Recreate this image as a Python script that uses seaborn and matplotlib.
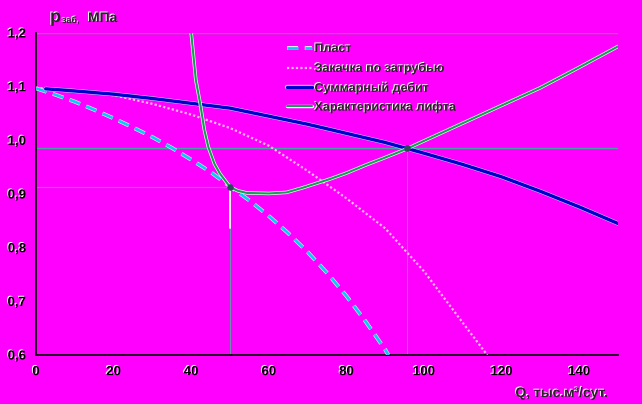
import matplotlib
matplotlib.use('Agg')
import matplotlib.pyplot as plt
import matplotlib.patheffects as pe
import seaborn as sns
import pandas as pd

# ---- data ----
q_plast = [0, 5, 10, 15, 20, 25, 30, 35, 40, 45, 50, 55, 60, 65, 70, 75, 80, 85, 90, 90.8]
p_plast = [1.097, 1.085, 1.072, 1.057, 1.041, 1.024, 1.006, 0.986, 0.964, 0.941, 0.914,
           0.888, 0.859, 0.827, 0.792, 0.753, 0.710, 0.662, 0.610, 0.600]

q_zak = [0, 10, 20, 30, 40, 50, 60, 70, 80, 90, 100, 110, 116.3]
p_zak = [1.098, 1.093, 1.084, 1.068, 1.048, 1.023, 0.990, 0.943, 0.892, 0.836, 0.756, 0.660, 0.600]

q_sum = [2.5, 10, 20, 30, 40, 50, 60, 70, 80, 90, 100, 110, 120, 130, 140, 150]
p_sum = [1.096, 1.092, 1.086, 1.078, 1.069, 1.060, 1.045, 1.030, 1.013, 0.996, 0.976,
         0.955, 0.932, 0.905, 0.876, 0.845]

q_lift = [40.0, 41.2, 42.3, 43.4, 44.4, 46.0, 47.4, 50.0, 52.0, 54.3, 60.0, 64.6, 68.9,
          75.8, 80, 85, 90, 95.5, 100, 110, 120, 130, 140, 150]
p_lift = [1.200, 1.112, 1.069, 1.019, 0.988, 0.956, 0.938, 0.913, 0.906, 0.902, 0.901,
          0.903, 0.912, 0.928, 0.939, 0.954, 0.968, 0.984, 0.999, 1.032, 1.065, 1.098,
          1.136, 1.175]

labels = ["Пласт", "Закачка по затрубью", "Суммарный дебит", "Характеристика лифта"]

# operating points
q_op = [50.0, 95.6]
p_op = [0.913, 0.985]

x_ticks = [0, 20, 40, 60, 80, 100, 120, 140]
x_ticklabels = ["0", "20", "40", "60", "80", "100", "120", "140"]
y_ticks = [0.6, 0.7, 0.8, 0.9, 1.0, 1.1, 1.2]
y_ticklabels = ["0,6", "0,7", "0,8", "0,9", "1,0", "1,1", "1,2"]

# ---- drawing ----
sns.set_style('white')
plt.rcParams['font.family'] = ['Liberation Sans', 'DejaVu Sans']

MAG = '#ff00ff'
W, H = 642, 404
fig = plt.figure(figsize=(W / 100, H / 100), dpi=100, facecolor=MAG)
ax = fig.add_axes([36 / W, 1 - 355 / H, (618 - 36) / W, (355 - 33) / H])
ax.set_facecolor(MAG)

shadow = [pe.withSimplePatchShadow(offset=(-0.7, 0.7), shadow_rgbFace='white', alpha=1.0)]

# guide lines
ax.plot([0, 150], [1.2, 1.2], color='#5aa060', lw=1.0, zorder=1)
ax.plot([0, 150], [p_op[1], p_op[1]], color='#3fa5a0', lw=1.0, zorder=1)
ax.plot([0, q_op[0]], [p_op[0], p_op[0]], color='#3fa5a0', lw=0.8, zorder=1)
ax.plot([q_op[0], q_op[0]], [0.6, p_op[0]], color='#6a90b0', lw=0.8, zorder=1)
ax.plot([q_op[1], q_op[1]], [0.6, p_op[1]], color='#6a90b0', lw=0.8, zorder=1)
ax.plot([q_op[0], q_op[0]], [0.837, p_op[0]], color='white', lw=1.3, zorder=2)

df_plast = pd.DataFrame({'Q': q_plast, 'p': p_plast})
df_zak = pd.DataFrame({'Q': q_zak, 'p': p_zak})
df_sum = pd.DataFrame({'Q': q_sum, 'p': p_sum})
df_lift = pd.DataFrame({'Q': q_lift, 'p': p_lift})

sns.lineplot(data=df_plast, x='Q', y='p', ax=ax, color='#10c8f0', lw=2.0, sort=False,
             linestyle=(0, (4, 2.4)), label=labels[0], zorder=4,
             path_effects=[pe.Stroke(linewidth=2.8, foreground='#e0f8ff'), pe.Normal()])
sns.lineplot(data=df_zak, x='Q', y='p', ax=ax, color='#ffb8f4', lw=1.6, sort=False,
             linestyle=(0, (1, 1)), label=labels[1], zorder=3)
sns.lineplot(data=df_sum, x='Q', y='p', ax=ax, color='#0000c8', lw=2.4, sort=False,
             label=labels[2], zorder=4,
             path_effects=[pe.Stroke(linewidth=3.1, foreground='#c8d8ff'), pe.Normal()])
sns.lineplot(data=df_lift, x='Q', y='p', ax=ax, color='#14a050', lw=1.5, sort=False,
             label=labels[3], zorder=5,
             path_effects=[pe.Stroke(linewidth=2.5, foreground='#e8fff0'), pe.Normal()])

ax.scatter(q_op, p_op, s=14, color='#2a4a5a', zorder=6)

ax.set_xlim(0, 150)
ax.set_ylim(0.6, 1.2)
ax.set_xticks(x_ticks)
ax.set_xticklabels(x_ticklabels)
ax.set_yticks(y_ticks)
ax.set_yticklabels(y_ticklabels)
ax.set_xlabel('')
ax.set_ylabel('')
ax.tick_params(direction='in', length=4, width=1, colors='black', labelsize=9.5)
ax.tick_params(axis='x', pad=8)
ax.tick_params(axis='y', pad=7.2)
for t in ax.get_xticklabels() + ax.get_yticklabels():
    t.set_fontweight('bold')
    t.set_path_effects(shadow)

for s in ['top', 'right']:
    ax.spines[s].set_visible(False)
for s in ['left', 'bottom']:
    ax.spines[s].set_color('black')
    ax.spines[s].set_linewidth(1.2)

leg = ax.legend(loc='upper left', bbox_to_anchor=(287 / W, 1 - 43 / H),
                bbox_transform=fig.transFigure, frameon=False,
                prop={'size': 9, 'weight': 'bold'}, handlelength=2.0,
                handletextpad=0.2, labelspacing=0.55, borderpad=0, borderaxespad=0)
for t in leg.get_texts():
    t.set_path_effects(shadow)

# axis titles
fig.text(50 / W, 1 - 22 / H, 'p', fontsize=13, fontweight='bold', va='baseline',
         ha='left', path_effects=shadow)
fig.text(62 / W, 1 - 23 / H, 'заб,', fontsize=6.5, fontweight='bold', va='baseline',
         ha='left', path_effects=shadow)
fig.text(88 / W, 1 - 22 / H, 'МПа', fontsize=10, fontweight='bold', va='baseline',
         ha='left', path_effects=shadow)
fig.text(608 / W, 1 - 397 / H, 'Q, тыс.м³/сут.', fontsize=10, fontweight='bold',
         va='baseline', ha='right', path_effects=shadow)

fig.savefig('out.png', dpi=100, facecolor=MAG)
